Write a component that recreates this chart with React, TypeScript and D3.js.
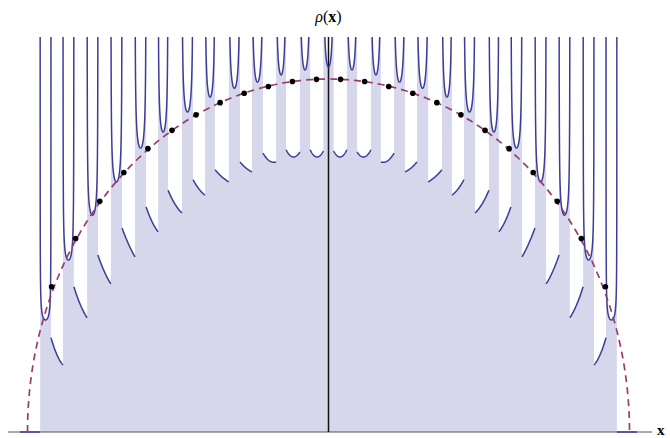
import React from "react";
import * as d3 from "d3";

const W = 670;
const H = 438;

// plotted range of x (support of the semicircle is [-1, 1])
const X_MIN = -1.025;
const X_MAX = 1.025;

// allowed bands: left edge, right edge and the density minimum inside each band
const bandLeft = [
  -0.958, -0.882, -0.802, -0.723, -0.643, -0.566, -0.487, -0.41, -0.331, -0.254, -0.174, -0.095, -0.017,
  0.061, 0.141, 0.218, 0.294, 0.377, 0.45, 0.533, 0.606, 0.686, 0.766, 0.846, 0.922,
];
const bandRight = [
  -0.922, -0.846, -0.766, -0.686, -0.606, -0.533, -0.45, -0.377, -0.294, -0.218, -0.141, -0.061, 0.017,
  0.095, 0.174, 0.254, 0.331, 0.41, 0.487, 0.566, 0.643, 0.723, 0.802, 0.882, 0.958,
];
const bandMin = [
  0.202, 0.31, 0.391, 0.451, 0.512, 0.541, 0.577, 0.604, 0.62, 0.631, 0.644, 0.653, 0.658,
  0.653, 0.644, 0.631, 0.62, 0.604, 0.577, 0.541, 0.512, 0.451, 0.391, 0.31, 0.202,
];

// density inside the gaps: value at the left edge, the middle and the right edge
const gapLeft = [
  0.17, 0.262, 0.319, 0.368, 0.406, 0.436, 0.455, 0.473, 0.487, 0.503, 0.509, 0.509,
  0.507, 0.505, 0.487, 0.469, 0.451, 0.427, 0.395, 0.361, 0.316, 0.267, 0.206, 0.121,
];
const gapMid = [
  0.139, 0.229, 0.289, 0.339, 0.379, 0.411, 0.438, 0.46, 0.476, 0.489, 0.496, 0.496,
  0.496, 0.496, 0.489, 0.476, 0.46, 0.438, 0.411, 0.379, 0.339, 0.289, 0.229, 0.139,
];
const gapRight = [
  0.121, 0.206, 0.267, 0.316, 0.361, 0.395, 0.427, 0.451, 0.469, 0.487, 0.505, 0.507,
  0.509, 0.509, 0.503, 0.487, 0.473, 0.455, 0.436, 0.406, 0.368, 0.319, 0.262, 0.17,
];

// marked points on the semicircle
const dotX = [
  -0.92, -0.84, -0.76, -0.68, -0.6, -0.52, -0.44, -0.36, -0.28, -0.2, -0.12, -0.04,
  0.04, 0.12, 0.2, 0.28, 0.36, 0.44, 0.52, 0.6, 0.68, 0.76, 0.84, 0.92,
];
const dotRho = [
  0.262, 0.349, 0.416, 0.468, 0.511, 0.544, 0.572, 0.594, 0.611, 0.623, 0.632, 0.636,
  0.636, 0.632, 0.623, 0.611, 0.594, 0.572, 0.544, 0.511, 0.468, 0.416, 0.349, 0.262,
];

const TOP = 37;
const AXIS_Y = 432;

const x = d3.scaleLinear().domain([-1, 1]).range([27.5, 629.5]);
const y = d3.scaleLinear().domain([0, 2 / Math.PI]).range([AXIS_Y, 79]);
const CAP = y.invert(TOP - 15);
const SHARP = 0.2;

const CURVE = "#3d3d99";
const FILL = "#d6d7ea";
const SEMI = "#993d71";

type P = [number, number];

function bandPoints(i: number): P[] {
  const a = bandLeft[i];
  const b = bandRight[i];
  const m = bandMin[i];
  const c = (a + b) / 2;
  const h = (b - a) / 2;
  const pts: P[] = [];
  const n = 300;
  for (let j = 1; j < n; j++) {
    const t = Math.cos(Math.PI * (1 - j / n));
    const v = m * (1 + SHARP * (1 / Math.sqrt(1 - t * t) - 1));
    pts.push([c + h * t, Math.min(v, CAP)]);
  }
  return pts;
}

function gapPoints(i: number): P[] {
  const x0 = bandRight[i];
  const x2 = bandLeft[i + 1];
  const x1 = (x0 + x2) / 2;
  const f0 = gapLeft[i];
  const f1 = gapMid[i];
  const f2 = gapRight[i];
  const pts: P[] = [];
  const n = 40;
  for (let j = 0; j <= n; j++) {
    const u = x0 + ((x2 - x0) * j) / n;
    const l0 = ((u - x1) * (u - x2)) / ((x0 - x1) * (x0 - x2));
    const l1 = ((u - x0) * (u - x2)) / ((x1 - x0) * (x1 - x2));
    const l2 = ((u - x0) * (u - x1)) / ((x2 - x0) * (x2 - x1));
    pts.push([u, f0 * l0 + f1 * l1 + f2 * l2]);
  }
  return pts;
}

export default function App() {
  const bands = bandLeft.map((_, i) => bandPoints(i));
  const gaps = gapLeft.map((_, i) => gapPoints(i));

  const fillPts: P[] = [];
  bands.forEach((bp, i) => {
    fillPts.push([bandLeft[i], CAP], ...bp, [bandRight[i], CAP]);
    if (i < gaps.length) fillPts.push(...gaps[i]);
  });

  const area = d3
    .area<P>()
    .x((d) => x(d[0]))
    .y0(y(0))
    .y1((d) => y(d[1]));
  const line = d3
    .line<P>()
    .x((d) => x(d[0]))
    .y((d) => y(d[1]));

  const semi: P[] = d3.range(0, 401).map((j) => {
    const th = Math.PI * (1 - j / 400);
    return [Math.cos(th), (2 / Math.PI) * Math.sin(th)];
  });

  return (
    <svg
      width={W}
      height={H}
      viewBox={`0 0 ${W} ${H}`}
      style={{ position: "absolute", left: 0, top: 0, background: "#fff" }}
    >
      <defs>
        <clipPath id="plotArea">
          <rect x={0} y={TOP} width={W} height={AXIS_Y - TOP + 2} />
        </clipPath>
      </defs>

      <g clipPath="url(#plotArea)">
        <path d={area(fillPts) ?? ""} fill={FILL} stroke="none" />
      </g>

      {/* axes */}
      <line x1={8} x2={652} y1={AXIS_Y} y2={AXIS_Y} stroke="#555" strokeWidth={1} />
      <line x1={x(0)} x2={x(0)} y1={TOP} y2={AXIS_Y} stroke="#111" strokeWidth={1.5} />

      <g clipPath="url(#plotArea)" fill="none" stroke={CURVE} strokeWidth={1.5}>
        {bands.map((bp, i) => (
          <path key={`b${i}`} d={line(bp) ?? ""} />
        ))}
        {gaps.map((gp, i) => (
          <path key={`g${i}`} d={line(gp) ?? ""} />
        ))}
        <path d={line([[X_MIN, 0], [bandLeft[0], 0]]) ?? ""} />
        <path d={line([[bandRight[bandRight.length - 1], 0], [X_MAX, 0]]) ?? ""} />
      </g>

      <path
        d={line(semi) ?? ""}
        fill="none"
        stroke={SEMI}
        strokeWidth={1.7}
        strokeDasharray="7,5"
      />

      {dotX.map((dx, i) => (
        <circle key={`d${i}`} cx={x(dx)} cy={y(dotRho[i])} r={2.8} fill="#000" />
      ))}

      <text
        x={x(0)}
        y={22}
        textAnchor="middle"
        fontFamily="'Liberation Serif', 'DejaVu Serif', serif"
        fontSize={16}
        fill="#000"
      >
        <tspan fontStyle="italic">ρ</tspan>
        <tspan>(</tspan>
        <tspan fontWeight="bold">x</tspan>
        <tspan>)</tspan>
      </text>
      <text
        x={657}
        y={435}
        fontFamily="'Liberation Serif', 'DejaVu Serif', serif"
        fontSize={15}
        fontWeight="bold"
        fill="#000"
      >
        x
      </text>
    </svg>
  );
}
